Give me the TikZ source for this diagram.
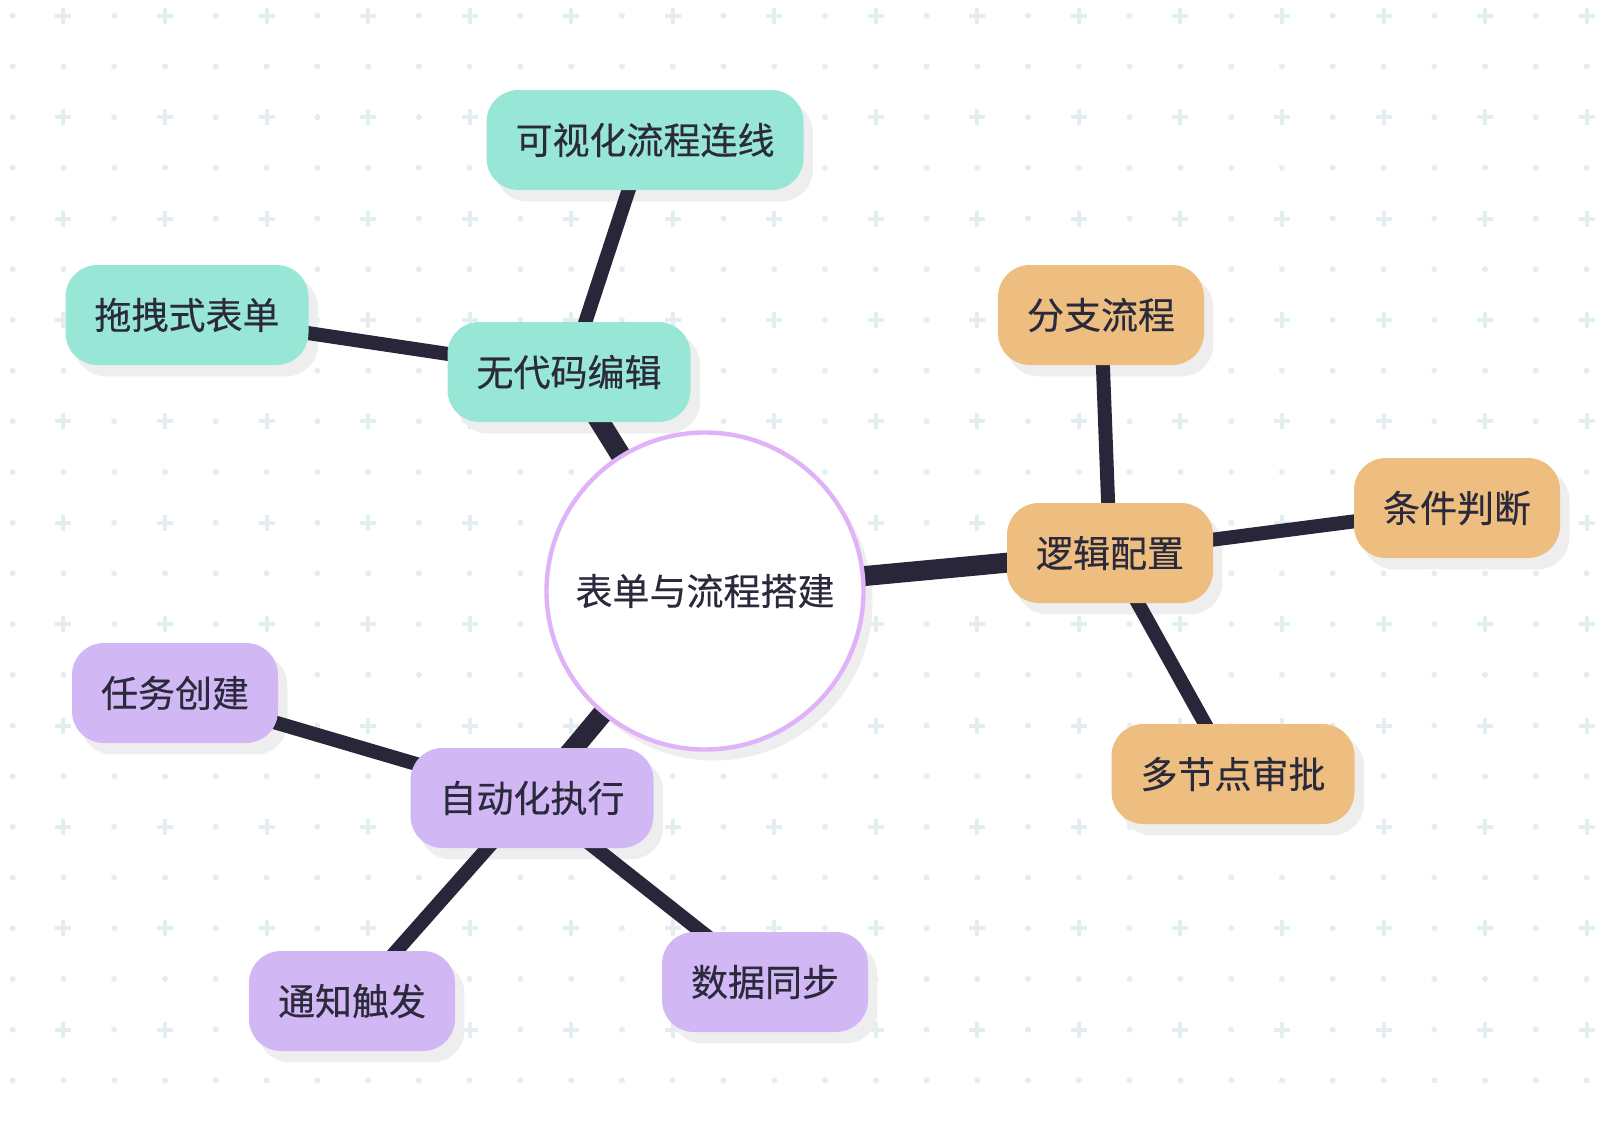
\documentclass[tikz,border=0pt]{standalone}
\usepackage{fontspec}
\setmainfont{Noto Sans CJK SC}
\newfontfamily\cardfont{Noto Sans CJK SC}[FakeBold=0.4]

\pgfdeclarelayer{grid}
\pgfdeclarelayer{shadow}
\pgfdeclarelayer{edges}
\pgfsetlayers{grid,shadow,edges,main}

\definecolor{gridc}{HTML}{E3EEF1}
\definecolor{shadowc}{HTML}{EEEEEE}
\definecolor{linkc}{HTML}{29263A}
\definecolor{txtc}{HTML}{2B2A3C}
\definecolor{tealc}{HTML}{98E7D6}
\definecolor{orangec}{HTML}{EDBE80}
\definecolor{purplec}{HTML}{D1B8F4}
\definecolor{hubc}{HTML}{E0B2F7}

\tikzset{
  card/.style={rounded corners=16pt, inner xsep=14.5pt, inner ysep=0pt,
    minimum height=50pt, text=txtc, font=\cardfont\fontsize{18.5}{22}\selectfont},
  tealcard/.style={card, fill=tealc},
  orangecard/.style={card, fill=orangec},
  purplecard/.style={card, fill=purplec},
  hubnode/.style={circle, fill=white, draw=hubc, line width=2.2pt, inner sep=0pt,
    minimum size=158.5pt, text=txtc, font=\cardfont\fontsize{18.5}{22}\selectfont},
  mainlink/.style={linkc, line width=10pt},
  sublink/.style={linkc, line width=7pt}
}

\begin{document}
\begin{tikzpicture}[x=0.5pt,y=-0.5pt]
\useasboundingbox (0,0) rectangle (1622,1124);

% nodes
\node[hubnode] (hub) at (705,591) {表单与流程搭建};
\node[tealcard] (vis) at (645,140) {可视化流程连线};
\node[tealcard] (drag) at (187,315) {拖拽式表单};
\node[tealcard] (nocode) at (569,372) {无代码编辑};
\node[orangecard] (branch) at (1101,315) {分支流程};
\node[orangecard] (cond) at (1457,508) {条件判断};
\node[orangecard] (logic) at (1110,553) {逻辑配置};
\node[orangecard] (multi) at (1233,774) {多节点审批};
\node[purplecard] (task) at (175,693) {任务创建};
\node[purplecard] (auto) at (532,798) {自动化执行};
\node[purplecard] (notify) at (352,1001) {通知触发};
\node[purplecard] (sync) at (765,982) {数据同步};

% links
\begin{pgfonlayer}{edges}
\foreach \b in {nocode,logic,auto}
  \draw[mainlink] (hub.center) -- (\b.center);
\draw[sublink] (nocode.center) -- (vis.center);
\draw[sublink] (nocode.center) -- (drag.center);
\draw[sublink] (logic.center) -- (branch.center);
\draw[sublink] (logic.center) -- (cond.center);
\draw[sublink] (logic.center) -- (multi.center);
\draw[sublink] (auto.center) -- (task.center);
\draw[sublink] (auto.center) -- (notify.center);
\draw[sublink] (auto.center) -- (sync.center);
\end{pgfonlayer}

% shadows
\begin{pgfonlayer}{shadow}
\foreach \n in {vis,drag,nocode,branch,cond,logic,multi,task,auto,notify,sync}
  \fill[shadowc, rounded corners=16pt] ([shift={(9,11)}]\n.south west) rectangle ([shift={(9,11)}]\n.north east);
\fill[shadowc] ([shift={(9,11)}]hub.center) circle (158.5);
\end{pgfonlayer}

% dotted grid
\begin{pgfonlayer}{grid}
\fill[white] (0,0) rectangle (1622,1124);
\foreach \i in {0,...,31}
  \foreach \j in {0,...,21} {
    \pgfmathsetmacro\px{12.7+50.77*\i}
    \pgfmathsetmacro\py{15.7+50.7*\j}
    \ifodd\i
      \ifodd\j
        \fill[gridc] (\px,\py) circle (3);
      \else
        \draw[gridc, line width=2pt] (\px-8,\py) -- (\px+8,\py) (\px,\py-8) -- (\px,\py+8);
      \fi
    \else
      \fill[gridc] (\px,\py) circle (3);
    \fi
  }
\end{pgfonlayer}
\end{tikzpicture}
\end{document}
